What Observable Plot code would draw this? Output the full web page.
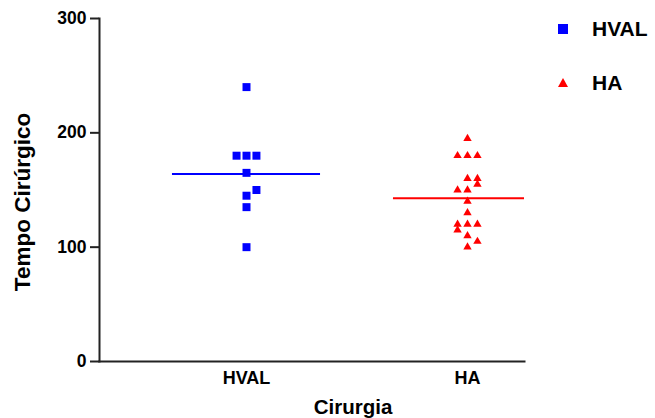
<!DOCTYPE html>
<html>
<head>
<meta charset="utf-8">
<script src="https://cdn.jsdelivr.net/npm/d3@7"></script>
<script src="https://cdn.jsdelivr.net/npm/@observablehq/plot@0.6"></script>
<style>
  html, body { margin: 0; padding: 0; background: #fff; }
  #wrap { position: relative; width: 655px; height: 418px; font-family: "Liberation Sans", Arial, sans-serif; }
  .lg { position: absolute; left: 557px; display: flex; align-items: center; height: 24px;
        font: bold 21px "Liberation Sans", Arial, sans-serif; color: #000; }
  .lg svg { margin-right: 23px; }
</style>
</head>
<body>
<div id="wrap"></div>
<script>
// ---- data ----
const groups = ["HVAL", "HA"];
const colors = ["#0000ff", "#ff0000"];
const yTicks = [0, 100, 200, 300];
const xTitle = "Cirurgia";
const yTitle = "Tempo Cirúrgico";

const hvalValues = [240, 180, 180, 180, 165, 150, 145, 135, 100];
const hvalSlots  = [0,   -1,   0,   1,   0,   1,   0,   0,   0];

const haValues = [195, 180, 180, 180, 160, 160, 155, 150, 150, 140, 130, 120, 120, 120, 115, 110, 105, 100];
const haSlots  = [0,   -1,   0,   1,   0,   1,   1,  -1,   0,   0,   0,  -1,   0,   1,  -1,   0,   1,   0];

// ---- build table ----
const slotW = 0.045;
const rows = [];
hvalValues.forEach((v, i) => rows.push({group: "HVAL", idx: 0, value: v, slot: hvalSlots[i]}));
haValues.forEach((v, i) => rows.push({group: "HA", idx: 1, value: v, slot: haSlots[i]}));
const means = groups.map((g, i) => ({group: g, idx: i, mean: d3.mean(rows.filter(r => r.group === g), r => r.value)}));

const font = "Liberation Sans, Arial, sans-serif";

const chart = Plot.plot({
  width: 655,
  height: 418,
  marginLeft: 99,
  marginRight: 131,
  marginTop: 18,
  marginBottom: 57,
  style: {fontFamily: font, fontWeight: "bold", color: "#000", background: "#fff", overflow: "visible"},
  x: {domain: [0, 1], range: [246, 467], axis: null},
  y: {domain: [0, 300], axis: null},
  marks: [
    Plot.axisY({ticks: yTicks, tickSize: 9, tickPadding: 4, fontSize: 17.5, fontWeight: "bold", strokeWidth: 2, stroke: "#222", fill: "#000", label: null}),
    Plot.axisX({ticks: [0, 1], tickFormat: i => groups[i], tickSize: 0, tickPadding: 10, fontSize: 18, fontWeight: "bold", fill: "#000", label: null}),
    Plot.frame({anchor: "left", stroke: "#222", strokeWidth: 2}),
    Plot.frame({anchor: "bottom", stroke: "#222", strokeWidth: 2}),
    Plot.ruleY(means, {x1: d => d.idx - 0.335, x2: d => d.idx + 0.335, y: "mean", stroke: d => colors[d.idx], strokeWidth: 2, clip: true}),
    Plot.dot(rows.filter(r => r.group === "HVAL"), {x: d => d.idx + d.slot * slotW, y: "value", symbol: "square", fill: colors[0], r: 4.5}),
    Plot.dot(rows.filter(r => r.group === "HA"), {x: d => d.idx + d.slot * slotW, y: "value", symbol: "triangle", fill: colors[1], r: 3.1}),
    Plot.text([yTitle], {frameAnchor: "left", textAnchor: "middle", lineAnchor: "middle", rotate: -90, dx: -77, dy: 12, fontSize: 22.5, fontWeight: "bold", fill: "#000"}),
    Plot.text([xTitle], {frameAnchor: "bottom", textAnchor: "middle", lineAnchor: "middle", dx: 41, dy: 46, fontSize: 20.5, fontWeight: "bold", fill: "#000"})
  ]
});

const wrap = document.getElementById("wrap");
wrap.appendChild(chart);

// ---- legend ----
const legendSymbols = [
  '<svg width="12" height="12"><rect x="1" y="1" width="10" height="10" fill="' + colors[0] + '"/></svg>',
  '<svg width="12" height="12"><polygon points="6,1 11,10 1,10" fill="' + colors[1] + '"/></svg>'
];
const legendTops = [17, 71];
groups.forEach((g, i) => {
  const d = document.createElement("div");
  d.className = "lg";
  d.style.top = legendTops[i] + "px";
  d.innerHTML = legendSymbols[i] + "<span>" + g + "</span>";
  wrap.appendChild(d);
});
</script>
</body>
</html>
